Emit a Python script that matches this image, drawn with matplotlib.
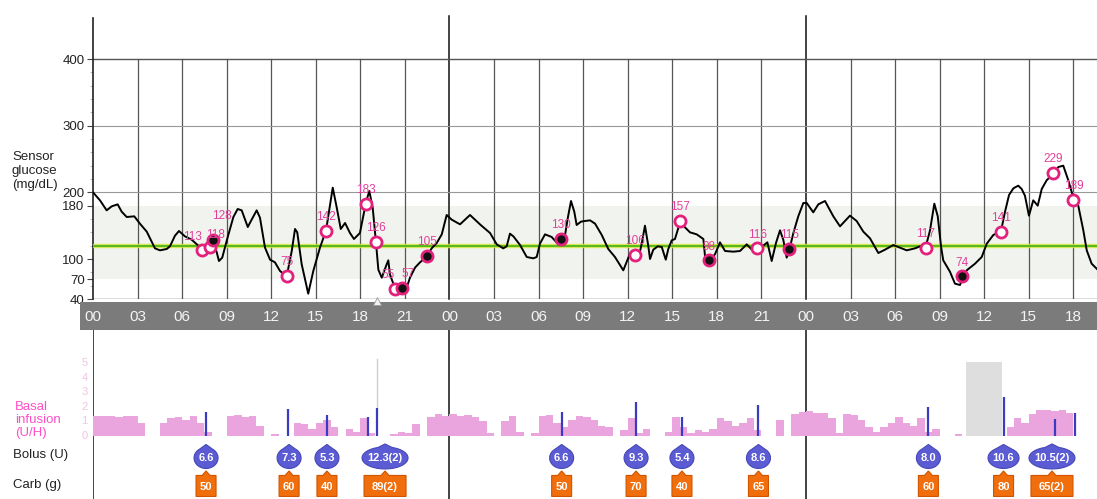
import numpy as np
import matplotlib
matplotlib.use("Agg")
import matplotlib.pyplot as plt
from matplotlib.patches import Polygon, Rectangle

plt.rcParams['font.family'] = ['Liberation Sans', 'DejaVu Sans']

# ---------------------------------------------------------------- data
# sensor glucose trace: hours since midnight of day 1, mg/dL
sg_hours = [
    0.00, 0.47, 0.92, 1.26, 1.66, 1.93, 2.27, 2.78, 3.16, 3.62, 4.17, 4.51,
    4.96, 5.18, 5.52, 5.79, 6.19, 6.64, 7.09, 7.36, 7.88, 8.10, 8.33, 8.48,
    8.70, 9.07, 9.45, 9.74, 10.01, 10.42, 10.68, 11.02, 11.24, 11.58, 11.92,
    12.25, 12.59, 12.70, 13.04, 13.38, 13.60, 13.75, 14.05, 14.49, 14.83,
    15.28, 15.69, 15.96, 16.14, 16.41, 16.68, 16.97, 17.30, 17.57, 17.97,
    18.38, 18.60, 18.83, 19.05, 19.21, 19.44, 19.77, 19.88, 19.99, 20.33,
    20.82, 21.07, 21.34, 21.68, 21.97, 22.47, 22.80, 23.14, 23.48, 23.81,
    24.15, 24.71, 25.38, 25.72, 26.10, 26.73, 27.18, 27.62, 27.85, 28.07,
    28.30, 28.75, 29.20, 29.64, 29.87, 30.09, 30.43, 30.88, 31.28, 31.51,
    31.78, 31.96, 32.18, 32.40, 32.56, 32.85, 33.12, 33.46, 33.80, 34.25,
    34.69, 35.14, 35.70, 36.15, 36.49, 36.76, 36.94, 37.16, 37.38, 37.50,
    37.72, 38.02, 38.29, 38.56, 38.73, 38.96, 39.18, 39.52, 39.74, 40.19,
    40.64, 41.09, 41.20, 41.49, 41.87, 42.21, 42.55, 43.11, 43.56, 44.01,
    44.35, 44.72, 45.24, 45.40, 45.69, 45.98, 46.25, 46.47, 46.70, 46.86,
    47.15, 47.48, 47.82, 48.05, 48.49, 48.83, 49.28, 49.84, 50.29, 50.96,
    51.41, 51.86, 52.31, 52.87, 53.32, 53.88, 54.21, 54.78, 55.34, 55.79,
    56.08, 56.35, 56.64, 56.87, 57.09, 57.24, 57.69, 58.03, 58.37, 58.52,
    58.82, 59.38, 59.83, 60.17, 60.61, 61.13, 61.40, 61.67, 61.96, 62.29,
    62.52, 62.74, 63.01, 63.30, 63.60, 63.87, 64.20, 64.65, 64.99, 65.32,
    65.66, 66.00, 66.33, 66.67, 66.90, 67.23, 67.59,
]
sg_values = [
    200, 188, 173, 179, 182, 171, 163, 164, 153, 141, 116, 113,
    115, 119, 135, 142, 134, 129, 120, 112, 117, 125, 110, 97,
    102, 133, 163, 175, 173, 148, 159, 173, 162, 117, 99,
    95, 82, 80, 74, 112, 145, 140, 92, 48, 82,
    117, 143, 182, 207, 177, 145, 154, 139, 130, 139,
    185, 202, 177, 125, 84, 72, 92, 98, 77, 56,
    56, 54, 72, 87, 94, 104, 116, 124, 137, 166,
    159, 152, 166, 159, 151, 139, 122, 116, 119, 138,
    134, 121, 103, 101, 103, 123, 137, 133, 123, 128,
    136, 161, 187, 171, 151, 156, 157, 158, 153, 136,
    115, 103, 83, 108, 107, 105, 123, 150, 120, 100,
    114, 119, 118, 99, 115, 128, 130, 155, 150, 140,
    137, 130, 105, 97, 107, 125, 112, 111, 112, 122,
    114, 114, 122, 125, 97, 124, 143, 129, 102, 112,
    139, 164, 184, 184, 170, 182, 187, 164, 149, 165,
    157, 141, 131, 109, 114, 121, 118, 113, 116, 120,
    120, 143, 183, 164, 119, 98, 81, 63, 61, 70,
    83, 93, 103, 123, 136, 142, 171, 196, 206, 210,
    205, 195, 165, 188, 180, 205, 218, 228, 238, 240,
    218, 192, 180, 143, 113, 93, 85,
]

# meter readings (open) and sensor calibrations (filled)
bg_hours = [7.36, 7.88, 8.10, 13.04, 15.69, 18.38, 19.05, 20.33, 20.82, 22.47,
            31.51, 36.49, 39.52, 41.49, 44.72, 46.86, 56.08, 58.52, 61.13,
            64.65, 66.00]
bg_values = [113, 118, 128, 75, 142, 183, 126, 55, 57, 105,
             130, 106, 157, 98, 116, 115, 117, 74, 141, 229, 189]
bg_filled = [False, False, True, False, False, False, False, False, True, True,
             True, False, False, True, False, True, False, True, False,
             False, False]

target_low, target_high = 70, 180
target_line = 119

# basal rate (U/h) in half-hour bins starting at hour 0
basal_rate = [
    1.35, 1.40, 1.35, 1.30, 1.40, 1.35, 0.90, 0.00, 0.00, 0.90,
    1.20, 1.30, 1.10, 1.35, 0.90, 0.30, 0.00, 0.00, 1.40, 1.45,
    1.30, 1.35, 0.70, 0.00, 0.10, 0.00, 0.00, 0.90, 0.80, 0.50,
    0.90, 1.10, 0.60, 0.00, 0.50, 0.30, 1.20, 0.20, 0.00, 0.00,
    0.15, 0.30, 0.20, 0.80, 0.00, 1.30, 1.50, 1.35, 1.50, 1.40,
    1.45, 1.30, 1.00, 0.20, 0.00, 1.00, 1.40, 0.30, 0.00, 0.20,
    1.40, 1.45, 0.90, 0.60, 1.10, 1.40, 1.30, 1.10, 0.70, 0.60,
    0.00, 0.40, 1.20, 0.20, 0.50, 0.00, 0.00, 0.30, 1.30, 0.60,
    0.20, 0.40, 0.30, 0.50, 1.20, 1.00, 0.70, 0.90, 1.20, 0.40,
    0.00, 0.00, 1.10, 0.00, 1.50, 1.65, 1.70, 1.55, 1.60, 1.20,
    0.20, 1.50, 1.45, 1.10, 0.60, 0.30, 0.60, 0.90, 1.30, 0.90,
    0.70, 1.20, 0.30, 0.50, 0.00, 0.00, 0.10, 0.00, 0.00, 0.00,
    0.00, 0.00, 0.00, 0.60, 1.20, 0.90, 1.50, 1.75, 1.80, 1.70,
    1.75, 1.60, 0.00, 0.00, 0.00,
]
basal_bin = 0.5
suspend_start, suspend_end, suspend_height = 58.8, 61.2, 5.1

# delivered bolus strokes: time (h) and drawn height on the basal scale
bolus_line_hours = [7.61, 13.15, 15.73, 18.49, 19.10, 31.55, 36.56, 39.63,
                    44.79, 56.24, 61.30, 64.76, 66.10]
bolus_line_height = [1.64, 1.88, 1.41, 1.32, 1.94, 1.65, 2.30, 1.30,
                     2.10, 1.99, 2.64, 1.15, 1.57]

# bolus / carb events shown in the bottom rows
event_hours = [7.61, 13.20, 15.75, 19.66, 31.55, 36.56, 39.65, 44.80,
               56.24, 61.30, 64.56]
bolus_units = ["6.6", "7.3", "5.3", "12.3(2)", "6.6", "9.3", "5.4", "8.6",
               "8.0", "10.6", "10.5(2)"]
carb_grams = ["50", "60", "40", "89(2)", "50", "70", "40", "65",
              "60", "80", "65(2)"]

hour_ticks = list(range(0, 67, 3))

# ---------------------------------------------------------------- layout
W, H = 1097, 499
X0 = 93                      # x pixel of hour 0
PX_PER_HOUR = 14.854
T_MAX = (W - X0) / PX_PER_HOUR

fig = plt.figure(figsize=(W / 100, H / 100), dpi=100)
fig.patch.set_facecolor('white')

def fy(py):
    return 1 - py / H

# ---- glucose panel
ax = fig.add_axes([X0 / W, fy(299), 1 - X0 / W, (299 - 15) / H])
ax.set_xlim(0, T_MAX)
ax.set_ylim(40, 466)
ax.set_frame_on(False)
ax.set_xticks([])
ax.set_yticks([40, 70, 100, 180, 200, 300, 400])
ax.set_yticks(np.arange(40, 401, 20), minor=True)
ax.tick_params(axis='y', which='major', length=4, width=0.8, color='#444',
               labelsize=9.5, labelcolor='#222', pad=2)
ax.tick_params(axis='y', which='minor', length=2.5, width=0.6, color='#aaa')

ax.axhspan(target_low, target_high, color='#f1f4ee', zorder=0, lw=0)
for h in hour_ticks[1:]:
    if h % 24:
        ax.plot([h, h], [40, 400], color='#555', lw=0.9, zorder=1)
for h in (24, 48):
    ax.plot([h, h], [40, 464], color='#111', lw=1.1, zorder=1, clip_on=False)
ax.plot([0, 0], [40, 461], color='#222', lw=1.2, zorder=2, clip_on=False)
ax.axhline(400, color='#555', lw=1.0, zorder=1)
ax.axhline(300, color='#999', lw=0.8, zorder=1)
ax.axhline(200, color='#999', lw=0.8, zorder=1)
ax.axhline(40, color='#555', lw=1.0, zorder=1)

ax.axhline(target_line, color='#dfe43a', lw=3.2, alpha=0.8, zorder=2)
ax.axhline(target_line, color='#55bb1f', lw=1.5, zorder=2)

ax.plot(sg_hours, sg_values, color='black', lw=1.4, zorder=4,
        solid_joinstyle='round')

# small nudges (points) for labels of readings that sit close together
label_nudge = {7.36: (-7, 0), 7.88: (4, -1), 8.10: (6, 8),
               20.33: (-5, 0), 20.82: (4, 0)}
for t, v, filled in zip(bg_hours, bg_values, bg_filled):
    ax.plot(t, v, 'o', ms=8, mew=2, mec='#e3217d',
            mfc='#111111' if filled else 'white', zorder=5)
    dx, dy = label_nudge.get(t, (0, 0))
    ax.annotate(str(v), (t, v), xytext=(dx, 5.5 + dy),
                textcoords='offset points', ha='center', va='bottom',
                color='#e2409a', fontsize=8.5, zorder=6)

# ---- hour band
bax = fig.add_axes([X0 / W, fy(330), 1 - X0 / W, (330 - 302) / H])
bax.set_xlim(0, T_MAX)
bax.set_ylim(0, 1)
bax.axis('off')
bax.add_patch(Rectangle((-0.9, 0), T_MAX + 0.9, 1, color='#7b7b7b',
                        lw=0, clip_on=False))
for h in hour_ticks:
    bax.text(h, 0.47, f"{h % 24:02d}", color='#f4f4f4', fontsize=11,
             ha='center', va='center', clip_on=False)
bax.plot(19.1, 1.02, marker='^', ms=6, color='#f2f2f2', mec='#9a9a9a',
         mew=0.6, clip_on=False)

# ---- basal / bolus / carb panel
LY_TOP, LY_BOT = 7.26, -4.32
lax = fig.add_axes([X0 / W, 0, 1 - X0 / W, 169 / H])
lax.set_xlim(0, T_MAX)
lax.set_ylim(LY_BOT, LY_TOP)
lax.axis('off')

px_x = 1 / PX_PER_HOUR
px_y = (LY_TOP - LY_BOT) / 169.0

basal_start = np.arange(len(basal_rate)) * basal_bin
lax.bar(basal_start, basal_rate, width=basal_bin, align='edge',
        color='#eaa5de', lw=0, zorder=1)
lax.add_patch(Rectangle((suspend_start, 0), suspend_end - suspend_start,
                        suspend_height, color='#dedede', lw=0, zorder=1))
lax.plot([19.10, 19.10], [1.94, 5.3], color='#cfcfcf', lw=1.0, zorder=1)
lax.vlines(bolus_line_hours, 0, bolus_line_height, color='#3b3bc2',
           lw=1.6, zorder=2)
for k in range(6):
    lax.text(-0.35, k, str(k), ha='right', va='center', color='#f0c4e6',
             fontsize=8, clip_on=False)
for h in (0, 24, 48):
    lax.plot([h, h], [LY_BOT, LY_TOP], color='#111', lw=1.1, zorder=0)

BOLUS_Y = -22 * px_y          # 458 px
CARB_Y = -50 * px_y           # 486 px

def drop_shape(xc, yc, text):
    wide = '(' in text
    a = 23 if wide else (15.5 if len(text) > 3 else 12)
    b = 11 if wide else 10.5
    apex = 14 if wide else 13.5
    start = np.deg2rad(72 if wide else 58)
    ang = np.linspace(start, np.pi - start - 2 * np.pi, 80)
    pts = [(0, apex)] + [(a * np.cos(t), b * np.sin(t)) for t in ang]
    verts = [(xc + px * px_x, yc + py * px_y) for px, py in pts]
    lax.add_patch(Polygon(verts, closed=True, fc='#5b5bd4', ec='#4747b8',
                          lw=0.8, zorder=3))
    lax.text(xc, yc, text, color='white', fontsize=8, fontweight='bold',
             ha='center', va='center', zorder=4)

def carb_box(xc, yc, text):
    half_w = 21 if '(' in text else 10
    half_h = 10.5
    pts = [(-half_w, -half_h), (half_w, -half_h), (half_w, half_h),
           (4, half_h), (0, half_h + 4.5), (-4, half_h), (-half_w, half_h)]
    verts = [(xc + px * px_x, yc + py * px_y) for px, py in pts]
    lax.add_patch(Polygon(verts, closed=True, fc='#f06e0c', ec='#d25400',
                          lw=0.8, zorder=3))
    lax.text(xc, yc - 0.05, text, color='white', fontsize=8,
             fontweight='bold', ha='center', va='center', zorder=4)

for t, bu, cg in zip(event_hours, bolus_units, carb_grams):
    drop_shape(t, BOLUS_Y, bu)
    carb_box(t, CARB_Y, cg)

# ---- row titles
fig.text(12 / W, fy(171), "Sensor\nglucose\n(mg/dL)", fontsize=9.5,
         color='#222', ha='left', va='center', linespacing=1.2)
fig.text(15 / W, fy(420), "Basal\ninfusion\n(U/H)", fontsize=9.5,
         color='#ff4fc8', ha='left', va='center', linespacing=1.15)
fig.text(13 / W, fy(455), "Bolus (U)", fontsize=9.5, color='#222',
         ha='left', va='center')
fig.text(13 / W, fy(485), "Carb (g)", fontsize=9.5, color='#222',
         ha='left', va='center')

fig.savefig("out.png", dpi=100, facecolor='white')
